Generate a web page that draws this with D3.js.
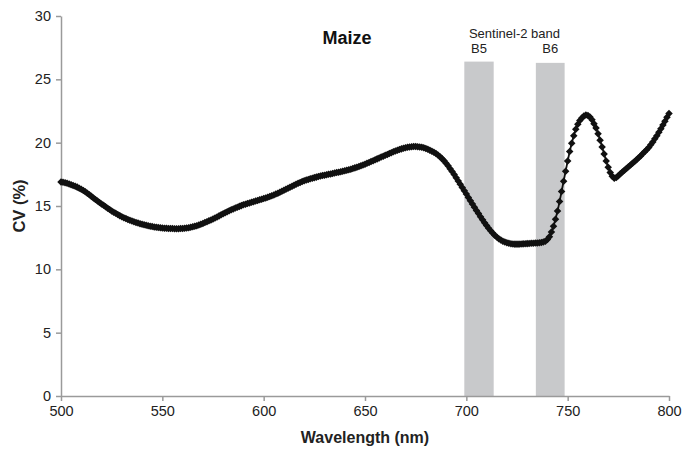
<!DOCTYPE html>
<html>
<head>
<meta charset="utf-8">
<script src="https://cdn.jsdelivr.net/npm/d3@7"></script>
<style>
  body { margin: 0; background: #fff; }
  svg { font-family: "Liberation Sans", Arial, sans-serif; }
</style>
</head>
<body>
<div id="chart"></div>
<script>
// spectral CV of maize, one value per nm from 500 to 800 nm
const wavelengths = d3.range(500, 801)
const cv = [
  16.90, 16.87, 16.84, 16.79, 16.74, 16.68, 16.62, 16.56, 16.49, 16.41,
  16.32, 16.22, 16.12, 16.00, 15.88, 15.76, 15.64, 15.52, 15.40, 15.28,
  15.16, 15.05, 14.94, 14.83, 14.72, 14.61, 14.51, 14.42, 14.33, 14.24,
  14.16, 14.08, 14.01, 13.94, 13.87, 13.81, 13.75, 13.70, 13.65, 13.60,
  13.56, 13.52, 13.48, 13.44, 13.41, 13.38, 13.35, 13.33, 13.31, 13.29,
  13.27, 13.25, 13.24, 13.23, 13.22, 13.22, 13.21, 13.21, 13.21, 13.22,
  13.23, 13.24, 13.26, 13.29, 13.32, 13.36, 13.40, 13.45, 13.50, 13.56,
  13.62, 13.69, 13.76, 13.83, 13.90, 13.98, 14.06, 14.14, 14.22, 14.30,
  14.38, 14.46, 14.54, 14.62, 14.70, 14.77, 14.84, 14.91, 14.97, 15.03,
  15.09, 15.14, 15.19, 15.24, 15.29, 15.34, 15.39, 15.44, 15.49, 15.54,
  15.59, 15.64, 15.69, 15.75, 15.81, 15.87, 15.94, 16.01, 16.08, 16.16,
  16.24, 16.32, 16.40, 16.48, 16.56, 16.64, 16.72, 16.79, 16.86, 16.93,
  16.99, 17.05, 17.10, 17.15, 17.20, 17.24, 17.28, 17.32, 17.36, 17.40,
  17.43, 17.46, 17.50, 17.53, 17.57, 17.60, 17.64, 17.67, 17.71, 17.75,
  17.79, 17.83, 17.87, 17.91, 17.96, 18.01, 18.06, 18.12, 18.18, 18.24,
  18.30, 18.37, 18.44, 18.51, 18.58, 18.65, 18.72, 18.79, 18.86, 18.93,
  19.00, 19.07, 19.14, 19.21, 19.28, 19.34, 19.40, 19.46, 19.51, 19.56,
  19.60, 19.63, 19.66, 19.68, 19.69, 19.69, 19.68, 19.66, 19.63, 19.59,
  19.54, 19.48, 19.41, 19.33, 19.24, 19.14, 19.02, 18.89, 18.74, 18.57,
  18.38, 18.17, 17.95, 17.72, 17.48, 17.23, 16.98, 16.72, 16.46, 16.20,
  15.94, 15.68, 15.42, 15.16, 14.90, 14.65, 14.40, 14.15, 13.91, 13.68,
  13.46, 13.25, 13.05, 12.87, 12.70, 12.55, 12.42, 12.31, 12.22, 12.15,
  12.09, 12.05, 12.02, 12.00, 11.99, 11.99, 11.99, 12.00, 12.01, 12.02,
  12.03, 12.04, 12.05, 12.06, 12.07, 12.08, 12.10, 12.12, 12.15, 12.22,
  12.35, 12.58, 12.95, 13.40, 13.95, 14.60, 15.35, 16.15, 16.95, 17.75,
  18.55, 19.30, 19.95, 20.55, 21.05, 21.45, 21.75, 21.95, 22.10, 22.18,
  22.15, 22.02, 21.80, 21.50, 21.15, 20.70, 20.20, 19.65, 19.10, 18.55,
  18.05, 17.65, 17.35, 17.20, 17.25, 17.38, 17.55, 17.68, 17.82, 17.96,
  18.10, 18.24, 18.38, 18.52, 18.66, 18.80, 18.95, 19.12, 19.29, 19.45,
  19.62, 19.83, 20.05, 20.30, 20.55, 20.82, 21.10, 21.40, 21.70, 22.00,
  22.30
]

// Sentinel-2 red-edge bands drawn as grey columns
const bandNames = ['B5', 'B6']
const bandStart = [699, 734.3]
const bandEnd = [713.5, 748.5]
const bandTop = [26.4, 26.3]

const xTicks = [500, 550, 600, 650, 700, 750, 800]
const yTicks = [0, 5, 10, 15, 20, 25, 30]

const width = 698
const height = 449
const margin = { top: 16, right: 29, bottom: 53, left: 61 }

const svg = d3
  .select('#chart')
  .append('svg')
  .attr('width', width)
  .attr('height', height)

const x = d3.scaleLinear().domain([500, 800]).range([margin.left, width - margin.right])
const y = d3.scaleLinear().domain([0, 30]).range([height - margin.bottom, margin.top])

// bands
svg
  .append('g')
  .selectAll('rect')
  .data(bandNames)
  .enter()
  .append('rect')
  .attr('x', (d, i) => x(bandStart[i]))
  .attr('width', (d, i) => x(bandEnd[i]) - x(bandStart[i]))
  .attr('y', (d, i) => y(bandTop[i]))
  .attr('height', (d, i) => y(0) - y(bandTop[i]))
  .attr('fill', '#c8c9cb')

svg
  .append('text')
  .attr('x', x((bandStart[0] + bandEnd[1]) / 2))
  .attr('y', 38)
  .attr('text-anchor', 'middle')
  .attr('font-size', 13)
  .attr('fill', '#222')
  .text('Sentinel-2 band')

svg
  .append('g')
  .selectAll('text')
  .data(bandNames)
  .enter()
  .append('text')
  .attr('x', (d, i) => x((bandStart[i] + bandEnd[i]) / 2))
  .attr('y', 52.5)
  .attr('text-anchor', 'middle')
  .attr('font-size', 13)
  .attr('fill', '#222')
  .text((d) => d)

// axes
const axisColor = '#9a9a9a'

const xAxis = svg
  .append('g')
  .attr('transform', `translate(0,${y(0)})`)
  .call(d3.axisBottom(x).tickValues(xTicks).tickSize(5).tickPadding(5).tickSizeOuter(0))
xAxis.select('.domain').attr('stroke', axisColor).attr('stroke-width', 1.5)
xAxis.selectAll('.tick line').attr('stroke', axisColor).attr('stroke-width', 1.5)
xAxis.selectAll('.tick text').attr('font-size', 14.5).attr('fill', '#222').attr('font-family', 'Liberation Sans, Arial, sans-serif')

const yAxis = svg
  .append('g')
  .attr('transform', `translate(${x(500)},0)`)
  .call(d3.axisLeft(y).tickValues(yTicks).tickSize(5).tickPadding(5).tickSizeOuter(0))
yAxis.select('.domain').attr('stroke', axisColor).attr('stroke-width', 1.5)
yAxis.selectAll('.tick line').attr('stroke', axisColor).attr('stroke-width', 1.5)
yAxis.selectAll('.tick text').attr('font-size', 14.5).attr('fill', '#222').attr('font-family', 'Liberation Sans, Arial, sans-serif')

svg
  .append('text')
  .attr('x', (x(500) + x(800)) / 2)
  .attr('y', 443)
  .attr('text-anchor', 'middle')
  .attr('font-size', 16)
  .attr('font-weight', 'bold')
  .attr('fill', '#222')
  .text('Wavelength (nm)')

svg
  .append('text')
  .attr('transform', `translate(25,${y(15)}) rotate(-90)`)
  .attr('text-anchor', 'middle')
  .attr('font-size', 16.5)
  .attr('font-weight', 'bold')
  .attr('fill', '#222')
  .text('CV (%)')

svg
  .append('text')
  .attr('x', 347)
  .attr('y', 44)
  .attr('text-anchor', 'middle')
  .attr('font-size', 18)
  .attr('font-weight', 'bold')
  .attr('fill', '#111')
  .text('Maize')

// series: thin line plus diamond markers
const points = wavelengths.map((w, i) => ({ w: w, v: cv[i] }))

svg
  .append('path')
  .datum(points)
  .attr('fill', 'none')
  .attr('stroke', '#111')
  .attr('stroke-width', 1.8)
  .attr('d', d3.line().x((d) => x(d.w)).y((d) => y(d.v)))

const diamond = d3.symbol().type(d3.symbolDiamond2).size(36)

svg
  .append('g')
  .selectAll('path')
  .data(points)
  .enter()
  .append('path')
  .attr('transform', (d) => `translate(${x(d.w)},${y(d.v)})`)
  .attr('d', diamond)
  .attr('fill', '#111')
</script>
</body>
</html>
